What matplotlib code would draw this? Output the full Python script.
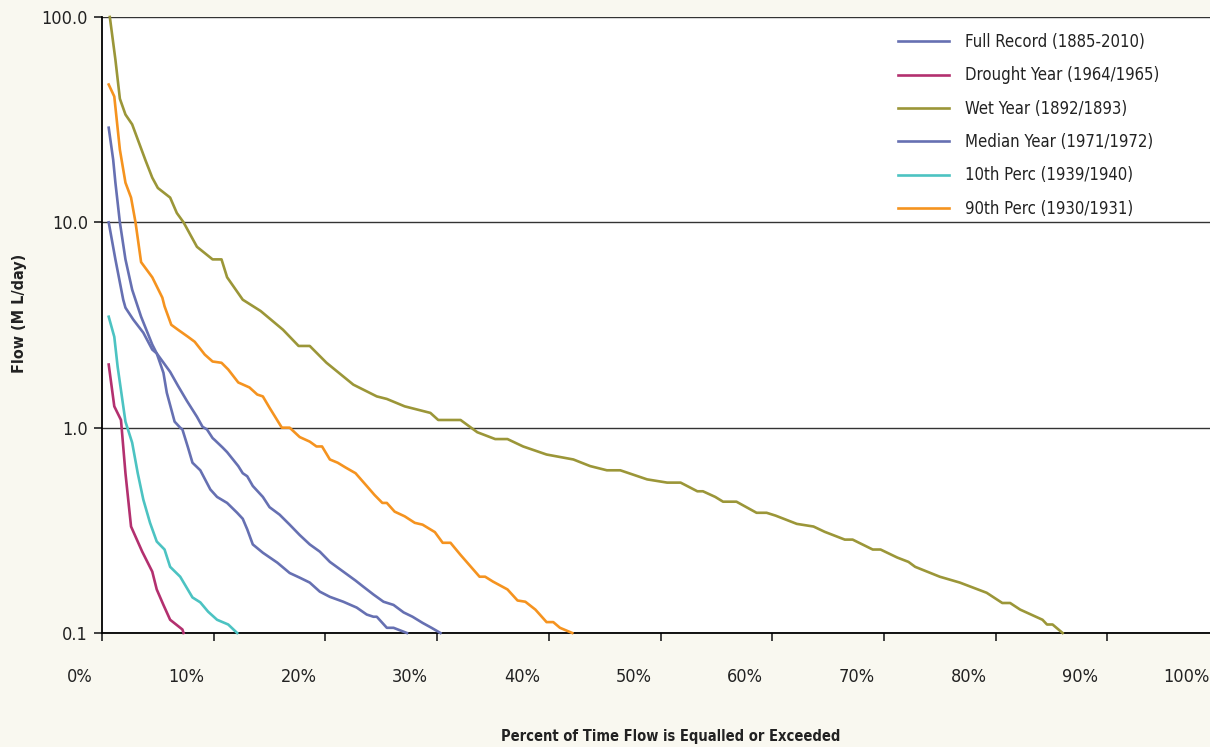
import matplotlib
matplotlib.use("Agg")
import matplotlib.pyplot as plt
import matplotlib.transforms as mtransforms
from matplotlib import font_manager
import numpy as np

# Courbes de débits classés (pourcentage du temps, débit en ML/jour)
full_x = [0.6, 1.0, 1.2, 1.6, 2.1, 2.7, 3.5, 4.5, 4.9, 5.5, 5.8, 6.5, 7.0, 7.2, 7.7, 8.1, 8.8,
          9.7, 10.3, 11.2, 12.1, 12.6, 13.0, 13.5, 14.4, 15.7, 16.8, 17.7, 18.6, 19.5, 20.4,
          21.6, 22.8, 23.7, 24.3, 24.6, 25.5, 26.1, 27.3]
full_y = [28.9, 20.2, 15.6, 10.0, 6.6, 4.7, 3.47, 2.54, 2.3, 1.85, 1.48, 1.07, 1.0, 0.98, 0.80,
          0.675, 0.62, 0.50, 0.46, 0.43, 0.385, 0.36, 0.32, 0.27, 0.246, 0.22, 0.196, 0.186,
          0.176, 0.159, 0.15, 0.142, 0.133, 0.123, 0.12, 0.12, 0.106, 0.106, 0.1]

drought_x = [0.6, 1.1, 1.7, 2.1, 2.6, 3.6, 4.5, 4.9, 5.5, 6.1, 7.2, 7.3]
drought_y = [2.03, 1.27, 1.09, 0.60, 0.33, 0.249, 0.199, 0.163, 0.137, 0.116, 0.104, 0.1]

wet_x = [0.7, 1.2, 1.6, 2.1, 2.7, 3.9, 4.5, 5.0, 6.1, 6.7, 7.3, 8.5, 9.9, 10.7, 11.2, 12.6,
         14.2, 16.2, 17.6, 18.6, 20.1, 22.5, 24.6, 25.5, 27.1, 29.4, 30.1, 32.1, 33.6, 35.2,
         36.3, 37.7, 39.8, 42.2, 43.7, 45.2, 46.4, 48.8, 50.6, 51.8, 53.3, 53.8, 54.9, 55.6,
         56.8, 58.6, 59.5, 60.3, 62.2, 63.7, 64.7, 66.5, 67.2, 69.0, 69.7, 71.2, 72.2, 72.8,
         75.0, 76.8, 79.2, 80.6, 81.3, 82.2, 84.2, 84.6, 85.1, 86.0]
wet_y = [100, 62, 40, 33.5, 30, 20, 16.5, 14.7, 13.2, 11.1, 10.0, 7.6, 6.6, 6.6, 5.4, 4.2,
         3.7, 3.0, 2.5, 2.5, 2.07, 1.62, 1.42, 1.38, 1.27, 1.18, 1.09, 1.09, 0.95, 0.88,
         0.88, 0.81, 0.74, 0.70, 0.65, 0.62, 0.62, 0.56, 0.54, 0.54, 0.49, 0.49, 0.46, 0.436,
         0.436, 0.385, 0.385, 0.373, 0.34, 0.33, 0.311, 0.285, 0.285, 0.255, 0.255, 0.233,
         0.222, 0.21, 0.188, 0.176, 0.157, 0.14, 0.14, 0.13, 0.116, 0.11, 0.11, 0.1]

median_x = [0.6, 1.2, 1.9, 2.1, 2.8, 3.7, 4.5, 4.9, 6.1, 6.8, 7.6, 8.5, 9.0, 9.4, 9.9, 10.1,
            10.8, 11.2, 12.2, 12.6, 13.0, 13.5, 14.4, 15.0, 15.9, 16.8, 17.7, 18.6, 19.5,
            20.4, 21.6, 22.7, 23.4, 24.3, 25.2, 26.1, 27.0, 27.8, 28.7, 29.5, 30.3]
median_y = [10.0, 6.6, 4.2, 3.84, 3.36, 2.9, 2.4, 2.3, 1.87, 1.6, 1.35, 1.13, 1.01, 0.98, 0.89,
            0.87, 0.80, 0.76, 0.65, 0.60, 0.58, 0.52, 0.46, 0.41, 0.377, 0.337, 0.30, 0.27,
            0.249, 0.222, 0.199, 0.18, 0.168, 0.154, 0.142, 0.137, 0.126, 0.12, 0.112, 0.106, 0.1]

p10_x = [0.6, 1.1, 1.4, 2.1, 2.7, 3.2, 3.7, 4.3, 4.9, 5.6, 6.1, 7.0, 8.1, 8.8, 9.5, 10.3, 11.3, 12.1]
p10_y = [3.47, 2.77, 1.98, 1.07, 0.845, 0.60, 0.446, 0.344, 0.279, 0.255, 0.21, 0.188, 0.149,
         0.141, 0.127, 0.116, 0.11, 0.1]

p90_x = [0.6, 1.1, 1.6, 2.1, 2.6, 3.0, 3.5, 4.5, 5.4, 5.6, 6.2, 6.8, 7.7, 8.3, 9.2, 9.9, 10.7,
         11.3, 12.2, 13.2, 13.9, 14.4, 15.0, 16.1, 16.8, 17.7, 18.6, 19.2, 19.7, 20.4, 21.1,
         21.8, 22.7, 23.7, 24.4, 25.1, 25.5, 26.2, 27.1, 28.0, 28.7, 29.8, 30.5, 31.2, 32.1,
         33.8, 34.3, 35.0, 36.3, 37.2, 37.9, 38.8, 39.8, 40.4, 41.0, 42.1]
p90_y = [46.9, 41, 22.6, 15.6, 13.2, 10.0, 6.4, 5.4, 4.3, 3.9, 3.17, 3.0, 2.77, 2.62, 2.27, 2.1,
         2.07, 1.92, 1.66, 1.57, 1.45, 1.42, 1.25, 1.0, 1.0, 0.90, 0.855, 0.81, 0.81, 0.70,
         0.675, 0.64, 0.60, 0.52, 0.47, 0.43, 0.43, 0.39, 0.37, 0.344, 0.337, 0.31, 0.275,
         0.275, 0.24, 0.188, 0.188, 0.178, 0.163, 0.144, 0.142, 0.13, 0.113, 0.113, 0.106, 0.1]

series = [
    ("Full Record (1885-2010)", full_x, full_y, "#6670b2"),
    ("Drought Year (1964/1965)", drought_x, drought_y, "#b3306f"),
    ("Wet Year (1892/1893)", wet_x, wet_y, "#9b9638"),
    ("Median Year (1971/1972)", median_x, median_y, "#6670b2"),
    ("10th Perc (1939/1940)", p10_x, p10_y, "#4cc3c2"),
    ("90th Perc (1930/1931)", p90_x, p90_y, "#f5931f"),
]

x_ticks = [0, 10, 20, 30, 40, 50, 60, 70, 80, 90, 100]
y_ticks = [0.1, 1, 10, 100]
y_labels = ["0.1", "1.0", "10.0", "100.0"]

# police étroite si dispo, sinon Roboto
fonts = font_manager.fontManager.ttflist
names = {f.name for f in fonts}
if "Liberation Sans Narrow" in names:
    plt.rcParams['font.family'] = ['Liberation Sans Narrow', 'DejaVu Sans']
    fs = 13.5
elif any(f.name == "DejaVu Sans" and f.stretch == "condensed" for f in fonts):
    plt.rcParams['font.family'] = ['DejaVu Sans']
    plt.rcParams['font.stretch'] = 'condensed'
    fs = 12
else:
    plt.rcParams['font.family'] = ['Roboto', 'DejaVu Sans']
    fs = 12

W, H = 1210, 747
bg = "#f9f8f0"
txt = "#222222"
fig = plt.figure(figsize=(W / 100, H / 100), dpi=100, facecolor=bg)
ax = fig.add_axes([102 / W, 1 - 633 / H, 1117 / W, (633 - 17) / H])
ax.set_facecolor("white")

for name, xs, ys, col in series:
    ax.plot(xs, ys, color=col, lw=1.9, label=name, clip_on=False, zorder=3)

ax.set_yscale("log")
ax.set_ylim(0.1, 100)
ax.set_xlim(0, 100)
ax.set_yticks(y_ticks)
ax.set_yticklabels(y_labels)
ax.yaxis.set_minor_locator(matplotlib.ticker.NullLocator())
ax.grid(axis="y", color="#333333", lw=1.0)
ax.set_axisbelow(True)

for s in ["top", "right"]:
    ax.spines[s].set_visible(False)
ax.spines["left"].set_linewidth(1.3)
ax.spines["bottom"].set_linewidth(1.3)
ax.tick_params(axis="y", length=6, width=1.2, direction="out", labelsize=fs + 1,
               pad=4, colors=txt)
ax.tick_params(axis="x", length=6, width=1.2, direction="out", colors=txt)

# étiquettes x décalées vers la gauche des graduations
ax.set_xticks(x_ticks)
ax.set_xticklabels([])
trans = ax.get_xaxis_transform() + mtransforms.Affine2D().translate(-9, -44)
for v in x_ticks:
    ax.text(v, 0, f"{v}%", transform=trans, ha="right", va="center",
            fontsize=fs + 1, color=txt, clip_on=False)

leg = ax.legend(loc="upper left", bbox_to_anchor=(898 / W, 1 - 33 / H),
                bbox_transform=fig.transFigure, frameon=False, fontsize=fs,
                handlelength=3.05, handletextpad=0.95, labelspacing=0.92,
                borderaxespad=0, borderpad=0)
for t in leg.get_texts():
    t.set_color(txt)

fig.text(20 / W, 1 - 313 / H, "Flow (M L/day)", rotation=90, ha="center", va="center",
         fontsize=fs - 0.5, fontweight="bold", color=txt)
fig.text(671 / W, 1 - 737 / H, "Percent of Time Flow is Equalled or Exceeded",
         ha="center", va="center", fontsize=fs - 1.5, fontweight="bold", color=txt)

fig.savefig("out.png", dpi=100, facecolor=bg)
